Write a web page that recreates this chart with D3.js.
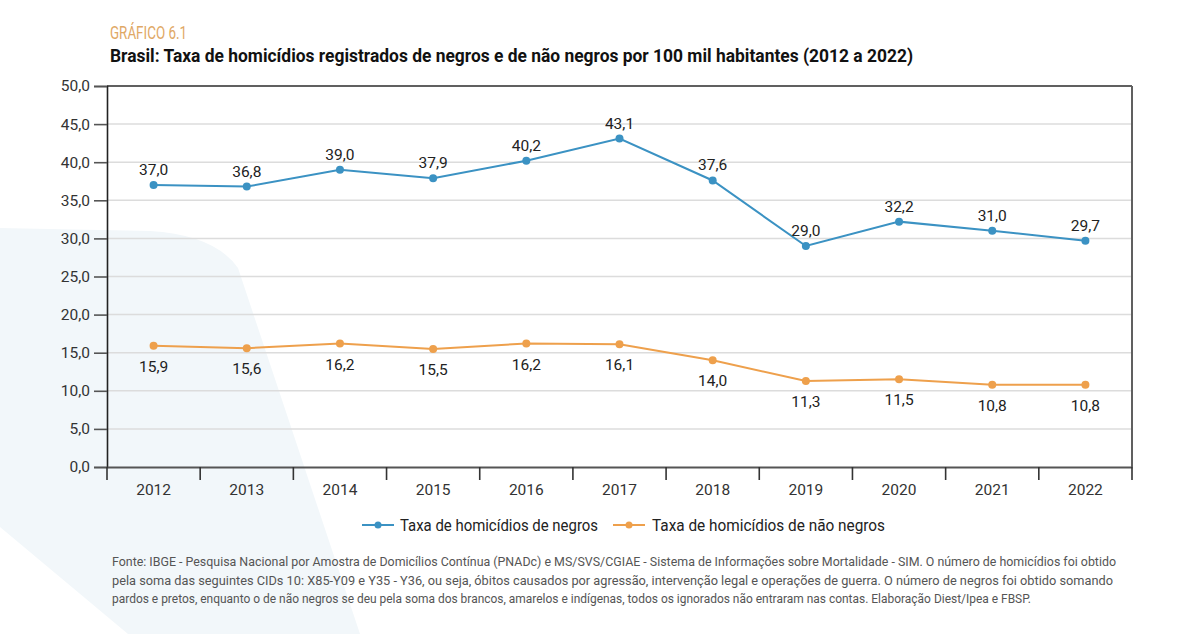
<!DOCTYPE html>
<html><head><meta charset="utf-8">
<script src="https://cdn.jsdelivr.net/npm/d3@7"></script>
<style>
html,body{margin:0;padding:0;background:#fff;}
svg{display:block;font-family:Roboto,"Noto Sans",sans-serif;}
</style></head>
<body>
<svg id="chart" width="1200" height="634"></svg>
<script>
const years = ["2012","2013","2014","2015","2016","2017","2018","2019","2020","2021","2022"];
const negros = [37.0,36.8,39.0,37.9,40.2,43.1,37.6,29.0,32.2,31.0,29.7];
const naoNegros = [15.9,15.6,16.2,15.5,16.2,16.1,14.0,11.3,11.5,10.8,10.8];
const yTicks = [0,5,10,15,20,25,30,35,40,45,50];
const seriesNames = ["Taxa de homicídios de negros","Taxa de homicídios de não negros"];
const kicker = "GRÁFICO 6.1";
const title = "Brasil: Taxa de homicídios registrados de negros e de não negros por 100 mil habitantes (2012 a 2022)";
const notes = [
 "Fonte: IBGE - Pesquisa Nacional por Amostra de Domicílios Contínua (PNADc) e MS/SVS/CGIAE - Sistema de Informações sobre Mortalidade - SIM.  O número de homicídios foi obtido",
 "pela soma das seguintes CIDs 10: X85-Y09 e Y35 - Y36, ou seja, óbitos causados por agressão, intervenção legal e operações de guerra. O número de negros foi obtido somando",
 "pardos e pretos, enquanto o de não negros se deu pela soma dos brancos, amarelos e indígenas, todos os ignorados não entraram nas contas. Elaboração Diest/Ipea e FBSP."
];

const svg = d3.select("#chart");
const blue = "#3b92c3", orange = "#eea04c";
const fmt = v => v.toFixed(1).replace(".", ",");

// decorative background shape
svg.append("path")
  .attr("d","M0,228 L150,231 Q215,235 238,268 L360,634 L128,634 L0,527 Z")
  .attr("fill","#f2f7fa");

const L = 107, R = 1132, T = 86, B = 467;
const x = d3.scaleBand().domain(years).range([L, R]);
const y = d3.scaleLinear().domain([0, 50]).range([B, T]);

// gridlines
svg.append("g").selectAll("line").data(yTicks.filter(d => d > 0 && d < 50)).join("line")
  .attr("x1", L).attr("x2", R).attr("y1", d => y(d)).attr("y2", d => y(d))
  .attr("stroke", "#dcdcdc").attr("stroke-width", 1.5);

// frame top & right
svg.append("line").attr("x1", L).attr("x2", R).attr("y1", y(50)).attr("y2", y(50))
  .attr("stroke", "#606060").attr("stroke-width", 2);
svg.append("line").attr("x1", R).attr("x2", R).attr("y1", y(50)).attr("y2", B)
  .attr("stroke", "#606060").attr("stroke-width", 2);

// y axis
const yAxis = svg.append("g").attr("transform", `translate(${L},0)`)
  .call(d3.axisLeft(y).tickValues(yTicks).tickFormat(fmt).tickSize(13).tickPadding(4));
yAxis.select(".domain").attr("stroke", "#222").attr("stroke-width", 1.6);
yAxis.selectAll(".tick line").attr("stroke", "#555").attr("stroke-width", 1.6);
yAxis.selectAll("text").attr("font-size", 15.5).attr("fill", "#333").attr("font-family", "Roboto");

// x axis
const xAxis = svg.append("g").attr("transform", `translate(0,${B})`)
  .call(d3.axisBottom(x).tickSize(0).tickPadding(17));
xAxis.select(".domain").attr("stroke", "#555").attr("stroke-width", 2);
xAxis.selectAll("text").attr("font-size", 15.5).attr("fill", "#333").attr("font-family", "Roboto");
// boundary ticks
const bounds = years.map(d => x(d)).concat([R]);
svg.append("g").selectAll("line").data(bounds).join("line")
  .attr("x1", d => d).attr("x2", d => d).attr("y1", B).attr("y2", B + 13)
  .attr("stroke", "#333").attr("stroke-width", 1.6);

const cx = d => x(d) + x.bandwidth() / 2;
const line = d3.line().x((d, i) => cx(years[i])).y(d => y(d));

function drawSeries(vals, color, dy) {
  const g = svg.append("g");
  g.append("path").datum(vals).attr("d", line).attr("fill", "none")
    .attr("stroke", color).attr("stroke-width", 2);
  g.selectAll("circle").data(vals).join("circle")
    .attr("cx", (d, i) => cx(years[i])).attr("cy", d => y(d)).attr("r", 4).attr("fill", color);
  g.selectAll("text").data(vals).join("text")
    .attr("x", (d, i) => cx(years[i])).attr("y", d => y(d) + dy)
    .attr("text-anchor", "middle").attr("font-size", 15.5).attr("fill", "#222")
    .text(fmt);
}
drawSeries(negros, blue, -10);
drawSeries(naoNegros, orange, 26);

// titles
svg.append("text").attr("x", 110).attr("y", 39).attr("font-size", 18.5)
  .attr("fill", "#dfa865").attr("textLength", 77).attr("lengthAdjust", "spacingAndGlyphs").text(kicker);
svg.append("text").attr("x", 110).attr("y", 62).attr("font-size", 18).attr("font-weight", "bold")
  .attr("fill", "#111").attr("textLength", 803).attr("lengthAdjust", "spacingAndGlyphs").text(title);

// legend
const legendItems = [
  {name: seriesNames[0], color: blue, x0: 362, tx: 400, tw: 198},
  {name: seriesNames[1], color: orange, x0: 613, tx: 652, tw: 233}
];
const lg = svg.append("g");
legendItems.forEach(it => {
  lg.append("line").attr("x1", it.x0).attr("x2", it.x0 + 32).attr("y1", 525).attr("y2", 525)
    .attr("stroke", it.color).attr("stroke-width", 2);
  lg.append("circle").attr("cx", it.x0 + 16).attr("cy", 525).attr("r", 3.5).attr("fill", it.color);
  lg.append("text").attr("x", it.tx).attr("y", 530.5).attr("font-size", 16).attr("fill", "#222")
    .attr("textLength", it.tw).attr("lengthAdjust", "spacingAndGlyphs").text(it.name);
});

// footnote
const noteW = [1004, 1001, 919];
svg.append("g").selectAll("text").data(notes).join("text")
  .attr("x", 112).attr("y", (d, i) => 566 + i * 18.5)
  .attr("font-size", 13).attr("fill", "#555")
  .attr("textLength", (d, i) => noteW[i]).attr("lengthAdjust", "spacingAndGlyphs")
  .text(d => d);
</script>
</body></html>
